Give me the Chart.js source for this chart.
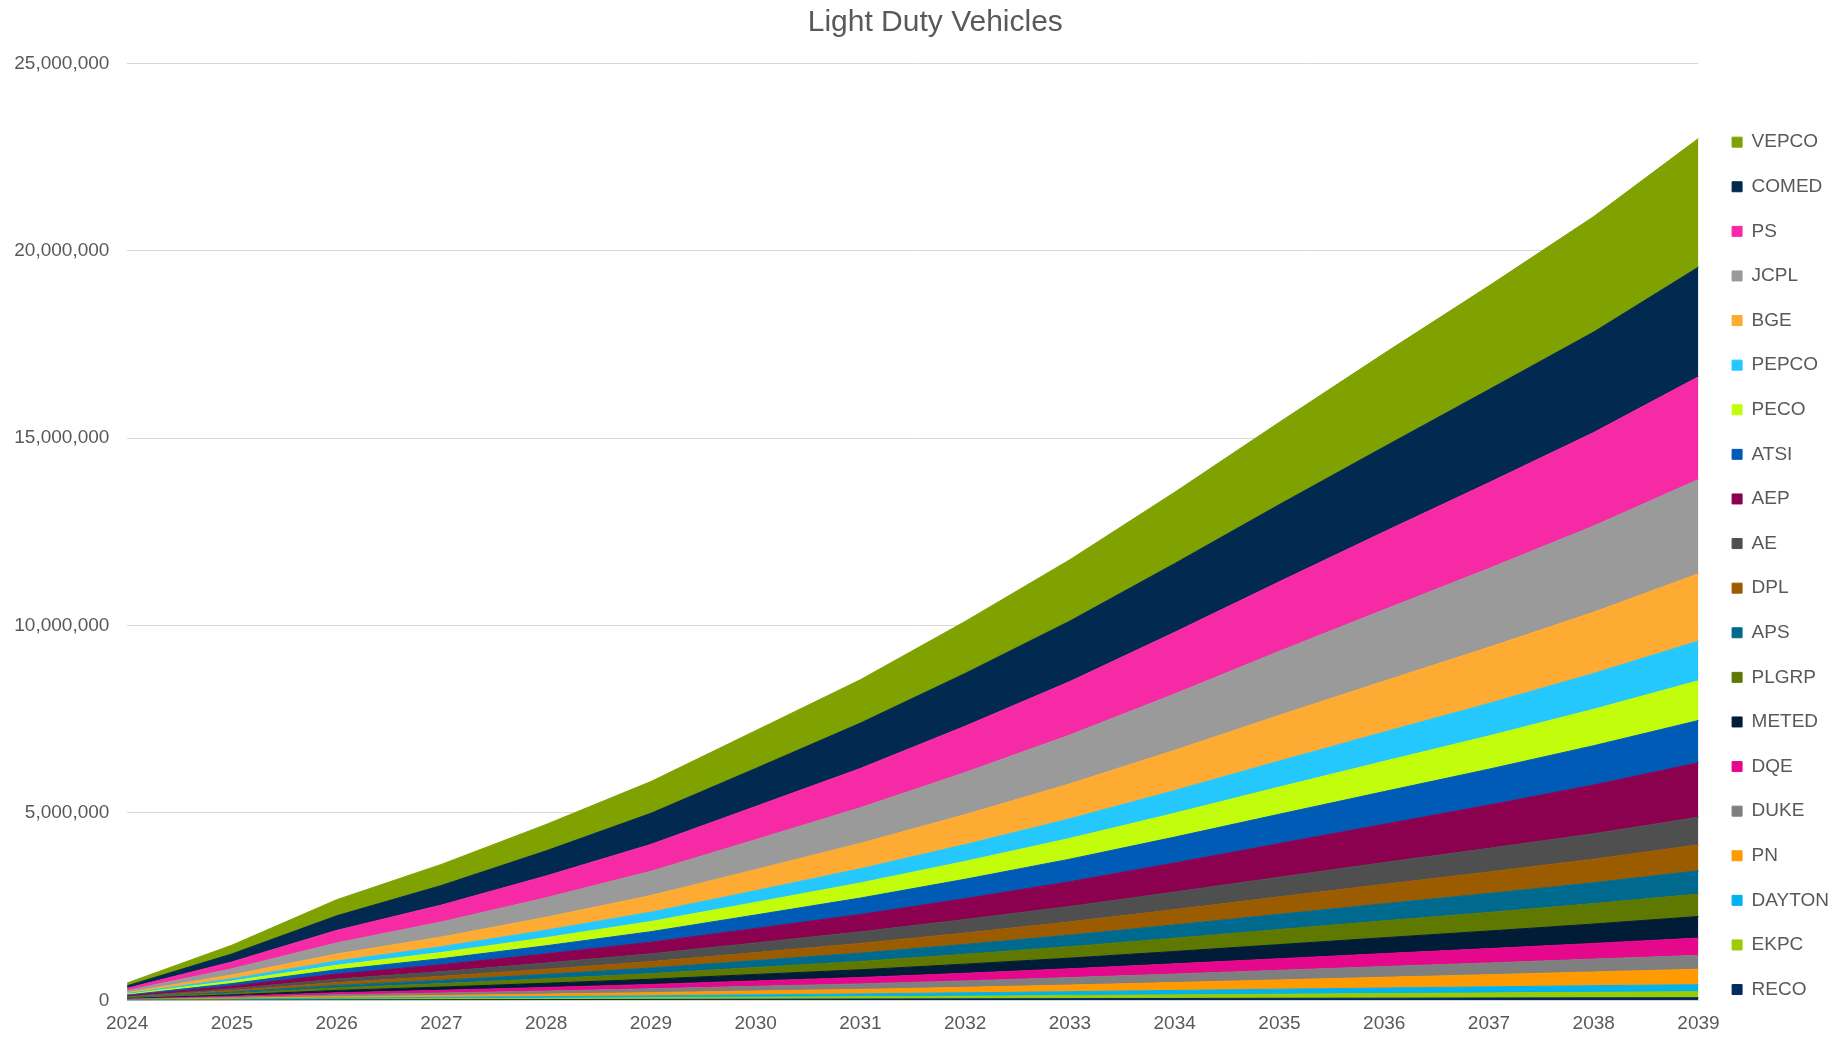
<!DOCTYPE html>
<html>
<head>
<meta charset="utf-8">
<script src="https://cdn.jsdelivr.net/npm/chart.js@4/dist/chart.umd.min.js"></script>
<style>
  html, body { margin: 0; padding: 0; background: #fff; }
  #wrap { width: 1839px; height: 1038px; position: relative; }
</style>
</head>
<body>
<div id="wrap"><canvas id="chart-area"></canvas></div>
<script>
const years = ['2024', '2025', '2026', '2027', '2028', '2029', '2030', '2031',
  '2032', '2033', '2034', '2035', '2036', '2037', '2038', '2039'];

// vehicles per zone (bottom to top)
const RECO = [2000, 6000, 11000, 15000, 19000, 24000, 29000, 34000, 39000, 44000, 49000, 54000, 58000, 62000, 66000, 70000];
const EKPC = [3700, 12000, 21000, 28000, 35000, 43000, 52000, 60000, 71000, 82000, 95000, 108000, 121000, 134000, 147000, 161000];
const DAYTON = [4600, 15000, 27000, 35000, 45000, 55000, 67000, 77000, 90000, 104000, 119000, 134000, 149000, 163000, 177000, 184000];
const PN = [6400, 21000, 38000, 51000, 66000, 82000, 101000, 120000, 147000, 177000, 211000, 248000, 286000, 325000, 367000, 415000];
const DUKE = [8300, 26000, 48000, 65000, 83000, 102000, 124000, 146000, 171000, 198000, 227000, 257000, 286000, 313000, 342000, 369000];
const DQE = [9200, 29000, 54000, 73000, 94000, 117000, 144000, 172000, 203000, 236000, 272000, 309000, 346000, 382000, 419000, 461000];
const METED = [11000, 35000, 64000, 87000, 113000, 140000, 173000, 206000, 244000, 285000, 330000, 377000, 424000, 470000, 517000, 576000];
const PLGRP = [11500, 37000, 67000, 91000, 119000, 149000, 185000, 223000, 263000, 306000, 353000, 402000, 450000, 496000, 545000, 599000];
const APS = [11500, 37000, 67000, 91000, 119000, 149000, 185000, 223000, 264000, 308000, 356000, 407000, 457000, 506000, 557000, 622000];
const DPL = [13000, 41000, 75000, 103000, 136000, 172000, 214000, 257000, 304000, 353000, 408000, 464000, 519000, 573000, 629000, 691000];
const AE = [16000, 51000, 94000, 127000, 166000, 208000, 258000, 309000, 360000, 412000, 469000, 526000, 580000, 630000, 681000, 737000];
const AEP = [23000, 74000, 134000, 185000, 244000, 310000, 385000, 463000, 557000, 660000, 775000, 897000, 1021000, 1155000, 1299000, 1452000];
const ATSI = [19000, 62000, 113000, 160000, 216000, 280000, 360000, 438000, 517000, 601000, 690000, 783000, 872000, 958000, 1047000, 1129000];
const PECO = [21000, 66000, 121000, 165000, 216000, 270000, 335000, 403000, 476000, 554000, 636000, 722000, 806000, 887000, 971000, 1060000];
const PEPCO = [19000, 62000, 113000, 153000, 199000, 251000, 313000, 378000, 448000, 524000, 607000, 696000, 783000, 868000, 958000, 1060000];
const BGE = [32000, 103000, 188000, 261000, 347000, 444000, 562000, 678000, 800000, 931000, 1074000, 1222000, 1358000, 1499000, 1634000, 1797000];
const JCPL = [51000, 162000, 295000, 400000, 518000, 646000, 798000, 952000, 1124000, 1305000, 1503000, 1708000, 1907000, 2100000, 2300000, 2511000];
const PS = [58000, 184000, 335000, 450000, 582000, 718000, 886000, 1047000, 1236000, 1425000, 1644000, 1856000, 2077000, 2291000, 2493000, 2742000];
const COMED = [67000, 213000, 389000, 523000, 671000, 829000, 1015000, 1210000, 1408000, 1614000, 1835000, 2058000, 2268000, 2482000, 2682000, 2926000];
const VEPCO = [74000, 235000, 429000, 563000, 704000, 847000, 1008000, 1158000, 1388000, 1637000, 1903000, 2197000, 2493000, 2768000, 3080000, 3433000];

const series = { RECO, EKPC, DAYTON, PN, DUKE, DQE, METED, PLGRP, APS, DPL, AE, AEP, ATSI, PECO, PEPCO, BGE, JCPL, PS, COMED, VEPCO };

const colors = {
  RECO: '#002d5e',
  EKPC: '#9acc00',
  DAYTON: '#00b2ee',
  PN: '#ff9a00',
  DUKE: '#7f7f7f',
  DQE: '#e6088c',
  METED: '#011c36',
  PLGRP: '#5f7800',
  APS: '#006a8e',
  DPL: '#9b5c00',
  AE: '#4f4f4f',
  AEP: '#8b004f',
  ATSI: '#005bb7',
  PECO: '#c2fe0c',
  PEPCO: '#25c8fc',
  BGE: '#fdab33',
  JCPL: '#9a9a9a',
  PS: '#f72aa6',
  COMED: '#022a50',
  VEPCO: '#7fa200'
};

const textColor = '#595959';
const fontFamily = '"Liberation Sans", Arial, sans-serif';

// the title in the original sits a little right of the canvas centre
const titleShift = {
  id: 'titleShift',
  afterLayout(chart) {
    if (chart.titleBlock) {
      chart.titleBlock.left += 35;
    }
  }
};

window.addEventListener('DOMContentLoaded', () => {
  const ctx = document.getElementById('chart-area');
  const datasets = Object.keys(series).map((key, i) => ({
    label: key,
    data: series[key],
    backgroundColor: colors[key],
    borderColor: colors[key],
    borderWidth: 1,
    pointRadius: 0,
    pointHoverRadius: 0,
    tension: 0,
    fill: i === 0 ? 'origin' : '-1'
  }));

  new Chart(ctx, {
    type: 'line',
    data: { labels: years, datasets },
    plugins: [titleShift],
    options: {
      responsive: true,
      maintainAspectRatio: false,
      animation: false,
      layout: {
        padding: { left: -3.4, right: 0, top: 0, bottom: -9.1 }
      },
      plugins: {
        title: {
          display: true,
          text: 'Light Duty Vehicles',
          color: textColor,
          font: { family: fontFamily, size: 30, weight: 'normal' },
          padding: { top: 4.3, bottom: 23 }
        },
        legend: {
          position: 'right',
          reverse: true,
          title: {
            display: true,
            text: ' ',
            font: { size: 10 },
            padding: { top: 72.6, bottom: 0 }
          },
          labels: {
            boxWidth: 10,
            boxHeight: 10,
            padding: 25.6,
            color: textColor,
            font: { family: fontFamily, size: 19 }
          }
        },
        tooltip: { enabled: false }
      },
      scales: {
        x: {
          stacked: true,
          offset: false,
          grid: { display: false, drawTicks: false },
          border: { display: true, color: '#d9d9d9' },
          ticks: {
            color: textColor,
            padding: 12,
            maxRotation: 0,
            autoSkip: false,
            font: { family: fontFamily, size: 19 }
          }
        },
        y: {
          stacked: true,
          min: 0,
          max: 25000000,
          grid: { color: '#d9d9d9', drawTicks: false },
          border: { display: false },
          ticks: {
            stepSize: 5000000,
            color: textColor,
            padding: 17.7,
            font: { family: fontFamily, size: 19 },
            callback: (value) => value.toLocaleString('en-US')
          }
        },
        // empty spacer between plot and legend
        gap: {
          position: 'right',
          display: true,
          grid: { display: false, drawTicks: false },
          border: { display: false },
          ticks: { display: false },
          afterFit: (scale) => { scale.width = 8; }
        }
      }
    }
  });
});
</script>
</body>
</html>
